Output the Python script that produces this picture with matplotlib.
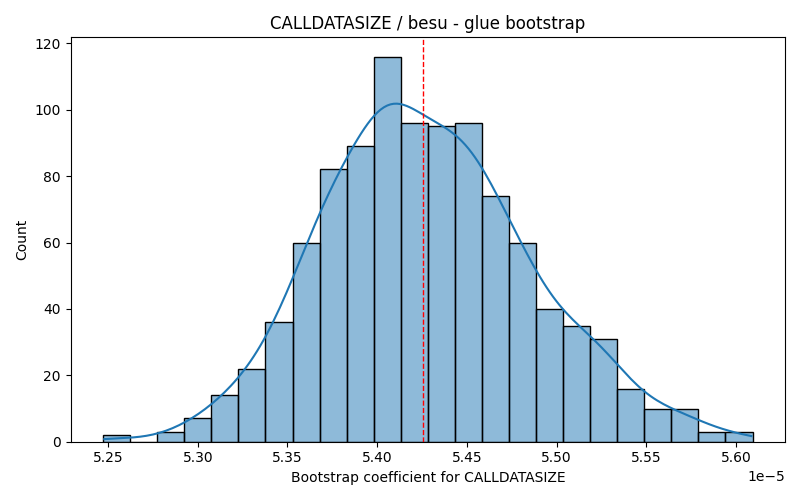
import matplotlib
matplotlib.use('Agg')
import matplotlib.pyplot as plt
import seaborn as sns
import numpy as np

# histogram (24 bins, 1000 bootstrap samples)
bin_lo = 5.2472e-5
bin_hi = 5.6093e-5
counts = [2, 0, 3, 7, 14, 22, 36, 60, 82, 89, 116, 96,
          95, 96, 74, 60, 40, 35, 31, 16, 10, 10, 3, 3]
mean_coef = 5.4254e-5

edges = np.linspace(bin_lo, bin_hi, len(counts) + 1)
centers = (edges[:-1] + edges[1:]) / 2

# weights shrink the effective sample size, so narrow the bandwidth back
# to what 1000 raw samples would give
n = sum(counts)
neff = n ** 2 / sum(c ** 2 for c in counts)
bw_adj = (n / neff) ** (-1 / 5)

fig, ax = plt.subplots(figsize=(8, 5), dpi=100)
sns.histplot(x=centers, weights=counts, bins=len(counts), binrange=(bin_lo, bin_hi),
             kde=True, ax=ax, edgecolor='black',
             kde_kws={'bw_adjust': bw_adj, 'cut': 0.29})
ax.axvline(mean_coef, color='red', linestyle='--', linewidth=1)
span = bin_hi - bin_lo
ax.set_xlim(bin_lo - 0.05 * span, bin_hi + 0.05 * span)
ax.set_title('CALLDATASIZE / besu - glue bootstrap')
ax.set_xlabel('Bootstrap coefficient for CALLDATASIZE')
ax.set_ylabel('Count')
plt.tight_layout()
plt.savefig('out.png')
plt.close()
